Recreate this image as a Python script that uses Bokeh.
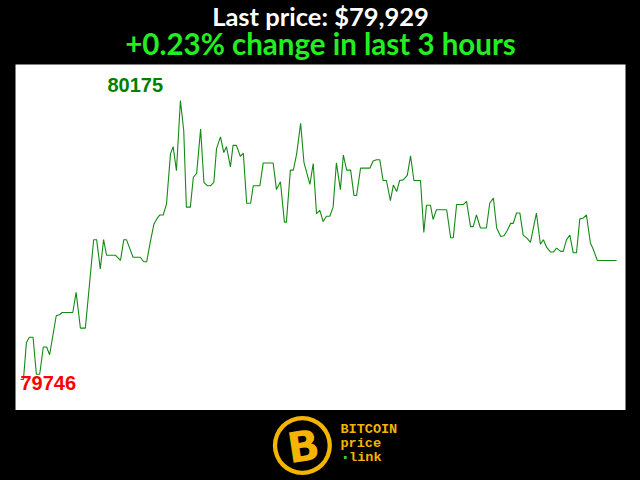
from bokeh.plotting import figure
from bokeh.models import Label, Range1d
from bokeh.layouts import column
from bokeh.embed import file_html
from bokeh.resources import INLINE
from bokeh.core.properties import value

# minutes since start of the 3-hour window
minutes = [0, 0.9, 1.8, 2.7, 3.8, 4.8, 5.8, 6.9, 7.9, 8.8, 10.8, 11.9, 12.6, 15.8, 16.8,
           18.1, 19.6, 22.1, 23.0, 24.1, 25.1, 26.0, 28.7, 30.2, 31.2, 32.0, 34.0, 36.2,
           37.2, 38.1, 39.3, 40.3, 41.3, 42.1, 43.1, 44.1, 45.3, 46.1, 47.1, 48.3, 49.3,
           50.1, 51.3, 52.2, 53.2, 54.4, 55.4, 56.4, 57.4, 58.4, 59.2, 60.4, 61.4, 62.2,
           63.4, 64.2, 65.2, 66.4, 67.3, 68.3, 69.5, 70.3, 72.3, 73.3, 76.3, 77.3, 78.5,
           79.7, 80.3, 81.5, 82.4, 83.4, 84.6, 85.6, 87.4, 88.4, 89.4, 90.4, 91.4, 92.4,
           93.4, 94.4, 95.4, 96.6, 97.5, 98.5, 99.7, 100.7, 101.5, 102.7, 105.5, 106.5,
           107.5, 108.5, 109.5, 110.5, 111.7, 112.6, 113.6, 114.5, 115.6, 116.8, 117.8,
           118.8, 120.8, 121.8, 122.6, 123.8, 124.6, 125.6, 128.7, 129.9, 130.7, 131.7,
           133.7, 134.7, 135.9, 136.7, 137.7, 138.9, 140.7, 141.7, 142.8, 143.8, 145.0,
           146.0, 147.0, 148.0, 148.8, 149.8, 150.8, 151.8, 153.0, 154.0, 155.8, 157.0,
           157.9, 158.9, 160.1, 160.9, 161.9, 163.1, 163.9, 164.9, 165.9, 166.9, 167.9,
           168.9, 169.9, 170.9, 172.1, 172.9, 174.2, 180.0]

prices = [79746, 79746, 79803, 79811, 79811, 79754, 79754, 79796, 79796, 79784, 79844,
          79846, 79849, 79849, 79880, 79825, 79825, 79961, 79961, 79916, 79961, 79937,
          79937, 79929, 79961, 79961, 79934, 79934, 79927, 79927, 79960, 79985, 79994,
          79999, 79999, 80016, 80093, 80104, 80067, 80175, 80129, 80011, 80011, 80057,
          80063, 80131, 80049, 80044, 80044, 80049, 80101, 80119, 80095, 80104, 80073,
          80106, 80106, 80089, 80094, 80017, 80017, 80044, 80044, 80079, 80079, 80038,
          80050, 79988, 79988, 80068, 80068, 80093, 80140, 80080, 80046, 80078, 80001,
          80006, 79989, 79997, 79997, 80011, 80079, 80038, 80091, 80068, 80068, 80029,
          80029, 80071, 80071, 80082, 80084, 80084, 80052, 80052, 80021, 80045, 80035,
          80052, 80053, 80060, 80090, 80052, 80052, 79972, 80014, 80014, 79992, 80007,
          80007, 79964, 79964, 80015, 80015, 80020, 79981, 79981, 79999, 79979, 79979,
          80017, 80025, 79979, 79966, 79967, 79975, 79986, 79986, 80002, 80002, 79968,
          79963, 79957, 80002, 79954, 79961, 79949, 79942, 79942, 79948, 79943, 79943,
          79961, 79968, 79941, 79941, 79993, 79994, 79999, 79956, 79947, 79929, 79929]

title_text = "Last price: $79,929"
subtitle_text = "+0.23% change in last 3 hours"
logo_lines = ["BITCOIN", "price", "link"]

hi = max(prices)
lo = min(prices)
i_hi = prices.index(hi)
i_lo = prices.index(lo)


def strip(h):
    f = figure(width=640, height=h, output_backend="svg", toolbar_location=None,
               x_axis_location=None, y_axis_location=None,
               x_range=Range1d(0, 640), y_range=Range1d(0, h), min_border=0)
    f.border_fill_color = "black"
    f.background_fill_color = "black"
    f.outline_line_color = None
    f.grid.visible = False
    return f


# header with the two title lines
head = strip(64)
head.text(x=[320], y=[49], text=[title_text], text_align="center",
          text_baseline="alphabetic", text_font=value("Lato"), text_font_style="bold",
          text_font_size="25.5px", text_color="white")
head.text(x=[320], y=[21], text=[subtitle_text], text_align="center",
          text_baseline="alphabetic", text_font=value("Lato"), text_font_style="bold",
          text_font_size="29.5px", text_color="#22ee22")

# main chart
p = figure(width=640, height=346, output_backend="svg", toolbar_location=None,
           x_axis_location=None, y_axis_location=None,
           x_range=Range1d(-1.5, 182.7), y_range=Range1d(79698.3, 80230.4),
           min_border_left=15, min_border_right=15, min_border_top=0, min_border_bottom=0)
p.border_fill_color = "black"
p.background_fill_color = "white"
p.outline_line_color = None
p.grid.visible = False

p.line(minutes, prices, line_color="#138a13", line_width=1.1)

p.add_layout(Label(x=minutes[i_hi], y=hi, text=str(hi), x_offset=-73, y_offset=16,
                   text_baseline="alphabetic", text_align="left",
                   text_font="Liberation Sans", text_font_style="bold",
                   text_font_size="20px", text_color="#008000"))
p.add_layout(Label(x=minutes[i_lo], y=lo, text=str(lo), x_offset=0, y_offset=-4,
                   text_baseline="alphabetic", text_align="left",
                   text_font="Liberation Sans", text_font_style="bold",
                   text_font_size="20px", text_color="#ff0000"))

# logo strip
q = strip(70)
gold = "#f5b400"
q.annulus(x=[301], y=[35], inner_radius=26.5, outer_radius=31, fill_color=gold, line_color=None)
q.text(x=[302], y=[34], text=["B"], text_align="center", text_baseline="middle",
       text_font=value("DejaVu Sans"), text_font_style="bold", text_font_size="42px",
       text_color=gold, angle=0.15)
q.text(x=[341, 341, 350], y=[51, 37, 23], text=logo_lines, text_align="left",
       text_baseline="middle", text_font=value("Liberation Mono"), text_font_style="bold",
       text_font_size="13.5px", text_color=gold)
q.rect(x=[346], y=[23], width=3, height=3, fill_color="#33cc33", line_color=None)

layout = column(head, p, q, spacing=0)
html = file_html(layout, INLINE)
html = html.replace("</head>", "<style>html, body { background: #000000; }</style>\n</head>", 1)
open("out.html", "w").write(html)
